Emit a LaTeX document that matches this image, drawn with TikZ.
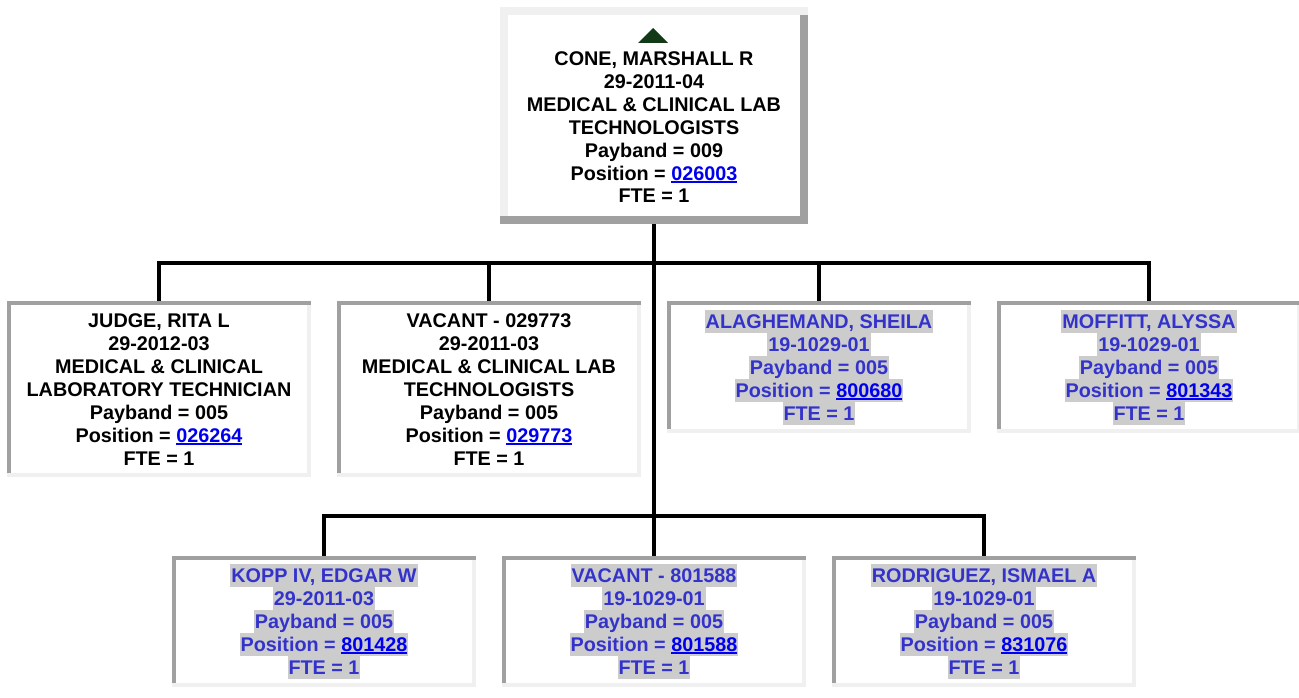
\documentclass[tikz,border=0pt]{standalone}
\usepackage{fontspec}
\setmainfont{Liberation Sans}
\usetikzlibrary{calc}
\definecolor{bdark}{HTML}{A0A0A0}
\definecolor{blight}{HTML}{F0F0F0}
\definecolor{hlgray}{HTML}{CCCCCC}
\definecolor{bluetxt}{HTML}{3333CC}
\definecolor{linkblue}{HTML}{0000EE}
\definecolor{trigreen}{RGB}{18,58,22}
\setlength\fboxsep{0pt}
\newcommand\lnstrut{\rule[-4.5pt]{0pt}{23pt}}
\newcommand\pl[1]{\lnstrut#1}
\newcommand\hl[1]{\colorbox{hlgray}{\lnstrut\kern1pt #1\kern1pt}}
\newcommand\lnk[1]{\setbox0\hbox{{\color{linkblue}#1}}\rlap{{\color{linkblue}\raisebox{-2.6pt}{\rule{\wd0}{1.8pt}}}}\box0}
\newcommand\frameit[4]{%
  \fill[#2] (#1.north west) rectangle ([yshift=-#4]#1.north east);
  \fill[#2] (#1.north west) rectangle ([xshift=#4,yshift=#4]#1.south west);
  \fill[#3] (#1.south west) rectangle ([yshift=#4]#1.south east);
  \fill[#3] ([yshift=-#4]#1.north east) rectangle ([xshift=-#4]#1.south east);
}
\tikzset{
  card/.style={fill=white, draw=none, inner sep=0pt, minimum width=304pt,
    font=\fontsize{19.8}{23}\selectfont\bfseries, align=center},
  tallcard/.style={card, minimum height=176pt},
  shortcard/.style={card, minimum height=132pt},
  bluecard/.style={card, text=bluetxt},
  txt/.style={inner sep=0pt, font=\fontsize{19.8}{23}\selectfont\bfseries, align=center},
  conn/.style={draw=black, line width=4pt}
}
\begin{document}
\begin{tikzpicture}[x=1pt,y=-1pt]
\useasboundingbox (0,0) rectangle (1299,698);
\fill[white] (0,0) rectangle (1299,698);

% top box
\node[fill=white, inner sep=0pt, minimum width=308pt, minimum height=217pt] (top) at (654,115.5) {};
\node[txt] (toptxt) at (654,127) {\pl{CONE, MARSHALL R}\\\pl{29-2011-04}\\\pl{MEDICAL \& CLINICAL LAB}\\\pl{TECHNOLOGISTS}\\\pl{Payband = 009}\\\pl{Position = \lnk{026003}}\\\pl{FTE = 1}};
\fill[trigreen] (638,43) -- (668,43) -- (653,28) -- cycle;

% first row
\node[tallcard] (judge) at (159,389) {\pl{JUDGE, RITA L}\\\pl{29-2012-03}\\\pl{MEDICAL \& CLINICAL}\\\pl{LABORATORY TECHNICIAN}\\\pl{Payband = 005}\\\pl{Position = \lnk{026264}}\\\pl{FTE = 1}};
\node[tallcard] (vac1) at (489,389) {\pl{VACANT - 029773}\\\pl{29-2011-03}\\\pl{MEDICAL \& CLINICAL LAB}\\\pl{TECHNOLOGISTS}\\\pl{Payband = 005}\\\pl{Position = \lnk{029773}}\\\pl{FTE = 1}};
\node[shortcard, bluecard] (alag) at (819,367) {\hl{ALAGHEMAND, SHEILA}\\\hl{19-1029-01}\\\hl{Payband = 005}\\\hl{Position = \lnk{800680}}\\\hl{FTE = 1}};
\node[shortcard, bluecard] (moff) at (1149,367) {\hl{MOFFITT, ALYSSA}\\\hl{19-1029-01}\\\hl{Payband = 005}\\\hl{Position = \lnk{801343}}\\\hl{FTE = 1}};

% second row
\node[bluecard, minimum height=131pt] (kopp) at (324,621.5) {\hl{KOPP IV, EDGAR W}\\\hl{29-2011-03}\\\hl{Payband = 005}\\\hl{Position = \lnk{801428}}\\\hl{FTE = 1}};
\node[bluecard, minimum height=131pt] (vac2) at (654,621.5) {\hl{VACANT - 801588}\\\hl{19-1029-01}\\\hl{Payband = 005}\\\hl{Position = \lnk{801588}}\\\hl{FTE = 1}};
\node[bluecard, minimum height=131pt] (rodr) at (984,621.5) {\hl{RODRIGUEZ, ISMAEL A}\\\hl{19-1029-01}\\\hl{Payband = 005}\\\hl{Position = \lnk{831076}}\\\hl{FTE = 1}};

% connectors
\coordinate (busA) at (654,263);
\coordinate (busB) at (654,516);
\draw[conn] (top.south) -- (vac2.north);
\draw[conn] (judge.north) -- (judge.north |- busA) -- (moff.north |- busA) -- (moff.north);
\draw[conn] (vac1.north) -- (vac1.north |- busA);
\draw[conn] (alag.north) -- (alag.north |- busA);
\draw[conn] (kopp.north) -- (kopp.north |- busB) -- (rodr.north |- busB) -- (rodr.north);

% frames
\frameit{top}{blight}{bdark}{8pt}
\frameit{judge}{bdark}{blight}{4pt}
\frameit{vac1}{bdark}{blight}{4pt}
\frameit{alag}{bdark}{blight}{4pt}
\frameit{moff}{bdark}{blight}{4pt}
\frameit{kopp}{bdark}{blight}{4pt}
\frameit{vac2}{bdark}{blight}{4pt}
\frameit{rodr}{bdark}{blight}{4pt}
\end{tikzpicture}
\end{document}
